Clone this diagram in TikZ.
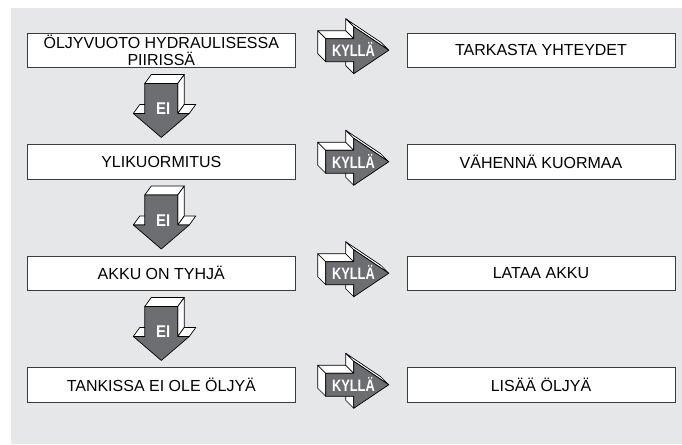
\documentclass[tikz,border=0pt]{standalone}
\usepackage{fontspec}
\setmainfont{Liberation Sans}
\newfontfamily\kyllafont[FakeStretch=0.78]{Liberation Sans}
\newfontfamily\eifont[FakeStretch=0.88]{Liberation Sans}
\usetikzlibrary{calc}
\definecolor{bggray}{HTML}{E6E7E8}
\definecolor{arrowgray}{HTML}{6D6E71}
\definecolor{boxline}{HTML}{3C3C3C}
\tikzset{
  box/.style={draw=boxline, line width=0.9pt, fill=white, minimum width=268pt,
    minimum height=34.5pt, inner sep=0pt, align=center,
    font=\fontsize{16}{16.4}\selectfont},
  face/.style={draw=black, fill=white, line width=0.7pt, line join=round},
  frontface/.style={draw=black, fill=arrowgray, line width=0.7pt, line join=round},
  yeslabel/.style={text=white, inner sep=0pt,
    font=\kyllafont\bfseries\fontsize{16.5}{16.5}\selectfont},
  nolabel/.style={text=white, inner sep=0pt,
    font=\eifont\bfseries\fontsize{17}{17}\selectfont},
  yesarrow/.pic={
    % visible side faces (extrusion towards upper left)
    \path[face] (0,-11.5) -- (0,11.5) -- (-8,3.5) -- (-8,-19.5) -- cycle;
    \path[face] (0,-11.5) -- (28,-11.5) -- (20,-19.5) -- (-8,-19.5) -- cycle;
    \path[face] (28,-11.5) -- (28,-23.5) -- (20,-31.5) -- (20,-19.5) -- cycle;
    \path[face] (28,-23.5) -- (63,0) -- (55,-8) -- (20,-31.5) -- cycle;
    \path[face] (28,23.5) -- (28,11.5) -- (20,3.5) -- (20,15.5) -- cycle;
    % front face
    \path[frontface] (0,-11.5) -- (28,-11.5) -- (28,-23.5) -- (63,0)
      -- (28,23.5) -- (28,11.5) -- (0,11.5) -- cycle;
    \node[yeslabel] (-lbl) at (27.7,-0.5) {KYLLÄ};
  },
  noarrow/.pic={
    % visible side faces (extrusion towards upper right)
    \path[face] (-16.5,0) -- (16.5,0) -- (23,-9) -- (-10,-9) -- cycle;
    \path[face] (16.5,0) -- (16.5,30) -- (23,21) -- (23,-9) -- cycle;
    \path[face] (16.5,30) -- (28,30) -- (34.5,21) -- (23,21) -- cycle;
    \path[face] (-28,30) -- (-16.5,30) -- (-10,21) -- (-21.5,21) -- cycle;
    % front face
    \path[frontface] (-16.5,0) -- (16.5,0) -- (16.5,30) -- (28,30)
      -- (0,54) -- (-28,30) -- (-16.5,30) -- cycle;
    \node[nolabel] (-lbl) at (1.8,25.5) {EI};
  }
}
\begin{document}
\begin{tikzpicture}[x=1pt, y=-1pt]
  \useasboundingbox (0,0) rectangle (682,444);
  \fill[bggray] (11,8) rectangle (682,444);

  % condition boxes (left)
  \node[box] (c1) at (161.3,50.25) {ÖLJYVUOTO HYDRAULISESSA\\PIIRISSÄ};
  \node[box] (c2) at (161.3,161.75) {YLIKUORMITUS};
  \node[box] (c3) at (161.3,273.25) {AKKU ON TYHJÄ};
  \node[box] (c4) at (161.3,384.75) {TANKISSA EI OLE ÖLJYÄ};

  % action boxes (right)
  \node[box] (r1) at (541,50.25) {TARKASTA YHTEYDET};
  \node[box] (r2) at (541,161.75) {VÄHENNÄ KUORMAA};
  \node[box] (r3) at (541,273.25) {LATAA AKKU};
  \node[box] (r4) at (541,384.75) {LISÄÄ ÖLJYÄ};

  % KYLLÄ arrows
  \foreach \i in {1,2,3,4}
    \pic (yes\i) at ($(c\i.east)+(30,0)$) {yesarrow};

  % EI arrows
  \foreach \i in {1,2,3}
    \pic (no\i) at ($(c\i.south)+(0,15.5)$) {noarrow};
\end{tikzpicture}
\end{document}
